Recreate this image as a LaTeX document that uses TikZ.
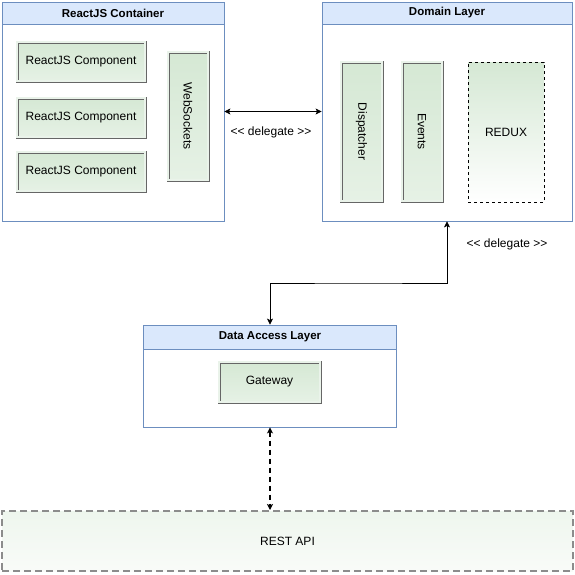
\documentclass[tikz,border=0pt]{standalone}
\usepackage{fontspec}
\setmainfont{Liberation Sans}
\usetikzlibrary{arrows.meta}
\definecolor{bluefill}{HTML}{DAE8FC}
\definecolor{blueline}{HTML}{6C8EBF}
\definecolor{greenfill}{HTML}{D5E8D4}
\definecolor{greyline}{HTML}{666666}
\begin{document}
\begin{tikzpicture}[x=1pt,y=-1pt]
\tikzset{
layer/.style={rectangle,draw=blueline,fill=white,line width=0.8pt,inner sep=0pt},
header/.style={rectangle,draw=blueline,fill=bluefill,line width=0.8pt,minimum height=22pt,anchor=north,font={\fontsize{11.5pt}{13}\selectfont\bfseries}},
comp/.style={rectangle,draw=greyline,double=greenfill!50,double distance=1.4pt,line width=0.8pt,top color=greenfill,bottom color=greenfill!60,inner sep=0pt},
store/.style={rectangle,draw=black,dashed,line width=0.6pt,top color=greenfill,bottom color=white,inner sep=0pt},
api/.style={rectangle,draw=greyline!75,line width=2pt,dash pattern=on 7pt off 4pt,top color=greenfill!40,bottom color=greenfill!15,inner sep=0pt},
edge/.style={{Stealth[length=6pt,width=6pt,inset=1.5pt]}-{Stealth[length=6pt,width=6pt,inset=1.5pt]},line width=0.7pt},
font={\fontsize{12pt}{14}\selectfont}
}
\useasboundingbox (0,0) rectangle (575,574);

\node[layer,minimum width=222pt,minimum height=219pt] (react) at (113,111.5) {};
\node[header,minimum width=222pt] (reacthead) at (react.north) {ReactJS Container};
\node[comp,minimum width=128pt,minimum height=39pt] (comp1) at (81,61.5) {ReactJS Component};
\node[comp,minimum width=128pt,minimum height=39pt] (comp2) at (81,117.5) {ReactJS Component};
\node[comp,minimum width=128pt,minimum height=39pt] (comp3) at (81,171.5) {ReactJS Component};
\node[comp,rotate=-90,minimum width=128pt,minimum height=40pt] (ws) at (188,116) {WebSockets};

\node[layer,minimum width=250pt,minimum height=219pt] (domain) at (447,111.5) {};
\node[header,minimum width=250pt] (domainhead) at (domain.north) {Domain Layer};
\node[comp,rotate=-90,minimum width=139pt,minimum height=41pt] (disp) at (361.5,131.5) {Dispatcher};
\node[comp,rotate=-90,minimum width=139pt,minimum height=40pt] (events) at (422,131.5) {Events};
\node[store,minimum width=76pt,minimum height=140pt] (redux) at (506,132) {REDUX};

\node[layer,minimum width=253pt,minimum height=102pt] (dal) at (270,376) {};
\node[header,minimum width=253pt,minimum height=24pt] (dalhead) at (dal.north) {Data Access Layer};
\node[comp,minimum width=101pt,minimum height=40pt] (gateway) at (269.5,382) {Gateway};

\node[api,minimum width=571pt,minimum height=60pt] (rest) at (287.5,541) {REST API};

\coordinate (bend) at (358,283);
\node (lbl1) at (271,132) {<{}< delegate >{}>};
\node (lbl2) at (507,244) {<{}< delegate >{}>};

\path[edge]
 (react) edge (domain)
;
\draw[edge] (domain.south) |- (bend) -| (dal.north);
\draw[edge,line width=1.6pt,dash pattern=on 5pt off 4pt] (dal.south) -- (dal.south |- rest.north);
\end{tikzpicture}
\end{document}
